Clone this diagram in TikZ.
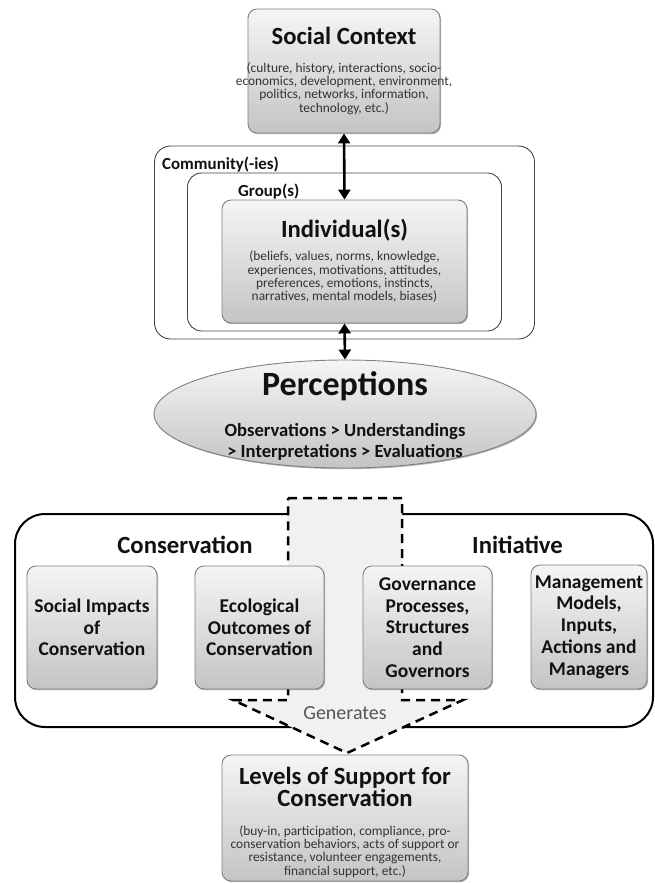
\documentclass[tikz,border=0pt]{standalone}
\usepackage{fontspec}
\setmainfont{Carlito}
\usetikzlibrary{arrows.meta,shadows,shapes.geometric}

\definecolor{boxline}{HTML}{808080}
\definecolor{boxtop}{HTML}{F5F5F5}
\definecolor{boxbot}{HTML}{C4C4C4}
\definecolor{frameline}{HTML}{444444}
\definecolor{inktitle}{HTML}{111111}
\definecolor{inkdetail}{HTML}{333333}
\definecolor{arrowfill}{HTML}{F1F1F1}
\definecolor{softink}{HTML}{555555}

\newcommand\fsz[2]{\fontsize{#1}{#2}\selectfont}

\tikzset{
  panel/.style={draw=boxline, line width=0.9pt, rounded corners=9pt,
    top color=boxtop, bottom color=boxbot, inner sep=0pt,
    drop shadow={shadow xshift=1pt, shadow yshift=-1.2pt, opacity=0.3, fill=black}},
  frame/.style={draw=frameline, line width=0.9pt, fill=white, inner sep=0pt},
  titletext/.style={text=inktitle, font=\fsz{24.7}{22.7}\bfseries, align=center, inner sep=0pt},
  detailtext/.style={text=inkdetail, font=\fsz{13.4}{13.3}, align=center, inner sep=0pt},
  labeltext/.style={text=inktitle, font=\fsz{16.9}{18}\bfseries, inner sep=0pt},
  cardtext/.style={text=inktitle, font=\fsz{19.5}{21.7}\bfseries, align=center},
  link/.style={line width=2.6pt, {Triangle[width=12pt,length=10pt]}-{Triangle[width=12pt,length=10pt]}},
  blockarrow/.style={draw=black, fill=arrowfill, line width=2.5pt, dash pattern=on 9pt off 6pt, line join=miter},
}

\begin{document}
\begin{tikzpicture}[x=1pt, y=-1pt]
\useasboundingbox (0,0) rectangle (655,883);

% Social context
\node[panel, minimum width=192pt, minimum height=124pt] (social) at (344,71) {};
\node[titletext, anchor=base] (socialT) at (344,45) {Social Context};
\node[detailtext, anchor=base] (socialD) at (344,112)
  {(culture, history, interactions, socio-\\economics, development, environment,\\politics, networks, information,\\technology, etc.)};

% Nested frames: community, group, individual
\node[frame, rounded corners=16pt, minimum width=380pt, minimum height=193pt] (community) at (344.5,242.5) {};
\node[frame, rounded corners=14pt, minimum width=314pt, minimum height=158pt] (group) at (344.5,252) {};
\node[labeltext, anchor=base west] (communityL) at (162,169) {Community(-ies)};
\node[labeltext, anchor=base west] (groupL) at (238,196) {Group(s)};

\node[panel, minimum width=245pt, minimum height=123pt] (indiv) at (344.5,261.5) {};
\node[titletext, anchor=base] (indivT) at (344.5,237) {Individual(s)};
\node[detailtext, anchor=base] (indivD) at (344.5,300.7)
  {(beliefs, values, norms, knowledge,\\experiences, motivations, attitudes,\\preferences, emotions, instincts,\\narratives, mental models, biases)};

% Perceptions
\node[ellipse, draw=boxline, line width=0.9pt, top color=boxtop, bottom color=boxbot,
  minimum width=382pt, minimum height=108pt, inner sep=0pt,
  drop shadow={shadow xshift=1pt, shadow yshift=-1.2pt, opacity=0.3, fill=black}] (percep) at (345,414) {};
\node[text=inktitle, font=\fsz{34}{36}\bfseries, anchor=base, inner sep=0pt] (percepT) at (345,395) {Perceptions};
\node[text=inktitle, font=\fsz{18.6}{21}\bfseries, align=center, anchor=base, inner sep=0pt] (percepD) at (345,457)
  {Observations > Understandings\\> Interpretations > Evaluations};

\draw[link] (social.south) -- (indiv.north);
\draw[link] (indiv.south) -- (percep.north);

% Conservation initiative
\node[draw=black, line width=2pt, rounded corners=30pt, minimum width=638pt, minimum height=213pt, inner sep=0pt] (initiative) at (334,620.5) {};

\draw[blockarrow] (288,498) -- (402,498) -- (402,700) -- (463,700) -- (347,753)
  -- (233,700) -- (288,700) -- cycle;

\node[titletext, anchor=base] (consL) at (185,553) {Conservation};
\node[titletext, anchor=base] (initL) at (517.5,553) {Initiative};

\node[panel, cardtext, minimum width=130pt, minimum height=123pt] (social impacts) at (92,627.5)
  {Social Impacts\\of\\Conservation};
\node[panel, cardtext, minimum width=129pt, minimum height=123pt] (ecological) at (259.5,627.5)
  {Ecological\\Outcomes of\\Conservation};
\node[panel, cardtext, minimum width=129pt, minimum height=123pt] (governance) at (427.5,627.5)
  {Governance\\Processes,\\Structures\\and\\Governors};
\node[panel, cardtext, minimum width=116pt, minimum height=124pt] (management) at (589,627)
  {Management\\Models,\\Inputs,\\Actions and\\Managers};

\node[text=softink, font=\fsz{20}{22}, anchor=base, inner sep=0pt] (generates) at (345,719) {Generates};

% Levels of support
\node[panel, minimum width=246pt, minimum height=126pt] (support) at (345,818) {};
\node[titletext, anchor=base] (supportT) at (345,806.7)
  {Levels of Support for\\Conservation};
\node[detailtext, anchor=base] (supportD) at (345,875)
  {(buy-in, participation, compliance, pro-\\conservation behaviors, acts of support or\\resistance, volunteer engagements,\\financial support, etc.)};
\end{tikzpicture}
\end{document}
